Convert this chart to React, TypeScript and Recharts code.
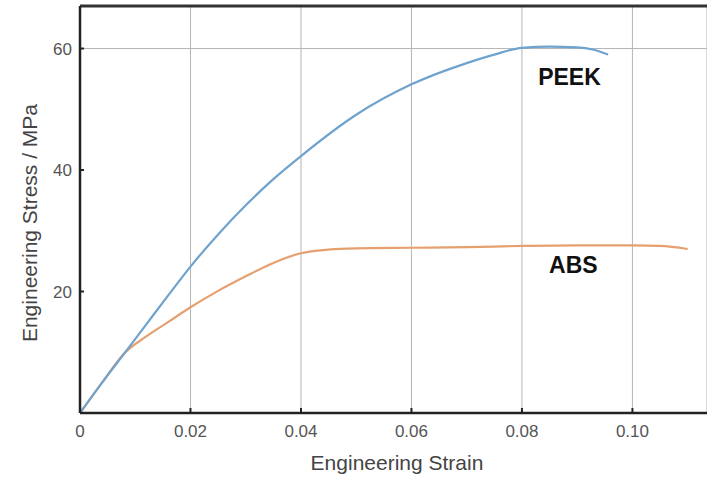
import { CartesianGrid, Line, LineChart, ReferenceDot, ReferenceLine, XAxis, YAxis } from "recharts";

const peekStrain = [0, 0.004, 0.0081, 0.012, 0.016, 0.02, 0.025, 0.03, 0.035, 0.04, 0.05, 0.06, 0.07, 0.075, 0.08, 0.085, 0.09, 0.093, 0.0956];
const peekStress = [0, 5, 9.9, 14.6, 19.4, 24.1, 29.4, 34.2, 38.5, 42.3, 49.1, 54.1, 57.6, 59, 60.1, 60.3, 60.2, 59.8, 59];

const absStrain = [0, 0.004, 0.0081, 0.012, 0.016, 0.02, 0.025, 0.03, 0.035, 0.04, 0.045, 0.05, 0.06, 0.07, 0.08, 0.09, 0.1, 0.105, 0.11];
const absStress = [0, 5, 9.9, 12.6, 15, 17.4, 20.1, 22.5, 24.7, 26.3, 26.9, 27.1, 27.2, 27.3, 27.5, 27.6, 27.6, 27.5, 27];

const xTicks = [0, 0.02, 0.04, 0.06, 0.08, 0.1];
const yTicks = [20, 40, 60];

const peek = peekStrain.map((x, i) => ({ x, y: peekStress[i] }));
const abs = absStrain.map((x, i) => ({ x, y: absStress[i] }));

const font = "'Liberation Sans', Arial, sans-serif";

const XTick = (props: any) => {
  const { x, y, payload } = props;
  const v = payload.value;
  return (
    <g>
      <line x1={x} x2={x} y1={y} y2={y - 5} stroke="#222" strokeWidth={2} />
      <text x={x} y={y + 24} textAnchor="middle" fill="#555" fontSize={17} fontFamily={font}>
        {v === 0 ? "0" : v.toFixed(2)}
      </text>
    </g>
  );
};

const YTick = (props: any) => {
  const { x, y, payload } = props;
  return (
    <g>
      <line x1={x} x2={x + 4} y1={y} y2={y} stroke="#222" strokeWidth={2} />
      <text x={x - 8} y={y + 6} textAnchor="end" fill="#555" fontSize={17} fontFamily={font}>
        {payload.value}
      </text>
    </g>
  );
};

export default function App() {
  return (
    <div style={{ position: "absolute", left: 0, top: 0, background: "#fff" }}>
      <LineChart width={707} height={479} margin={{ top: 6, right: 0, left: 0, bottom: 0 }}>
        <CartesianGrid horizontal={false} stroke="#b5b5b5" strokeWidth={1} />
        <XAxis
          type="number"
          dataKey="x"
          domain={[0, 0.1135]}
          ticks={xTicks}
          height={66}
          tickSize={0}
          tickMargin={0}
          tick={<XTick />}
          stroke="#222"
          strokeWidth={2.5}
          allowDataOverflow
          label={{
            content: () => (
              <text x={397} y={470} textAnchor="middle" fill="#444" fontSize={21} fontFamily={font}>
                Engineering Strain
              </text>
            ),
          }}
        />
        <YAxis
          type="number"
          dataKey="y"
          domain={[0, 67]}
          ticks={yTicks}
          width={80}
          tickSize={0}
          tickMargin={0}
          tick={<YTick />}
          stroke="#222"
          strokeWidth={2.5}
          allowDataOverflow
          label={{
            content: () => (
              <text
                x={29}
                y={223}
                transform="rotate(-90 29 223)"
                textAnchor="middle"
                dominantBaseline="central"
                fill="#444"
                fontSize={21}
                fontFamily={font}
              >
                Engineering Stress / MPa
              </text>
            ),
          }}
        />
        <ReferenceLine y={60} stroke="#b5b5b5" strokeWidth={1} />
        <ReferenceLine y={67} stroke="#333" strokeWidth={3} />
        <Line
          data={abs}
          dataKey="y"
          type="monotone"
          stroke="#e6a070"
          strokeWidth={2.2}
          dot={false}
          isAnimationActive={false}
        />
        <Line
          data={peek}
          dataKey="y"
          type="monotone"
          stroke="#6fa3cd"
          strokeWidth={2.2}
          dot={false}
          isAnimationActive={false}
        />
        <ReferenceDot
          x={0.0886}
          y={55.3}
          r={0}
          stroke="none"
          label={{ value: "PEEK", position: "center", fill: "#111", fontSize: 23, fontWeight: "bold", fontFamily: font }}
        />
        <ReferenceDot
          x={0.0893}
          y={24.4}
          r={0}
          stroke="none"
          label={{ value: "ABS", position: "center", fill: "#111", fontSize: 23, fontWeight: "bold", fontFamily: font }}
        />
      </LineChart>
    </div>
  );
}
